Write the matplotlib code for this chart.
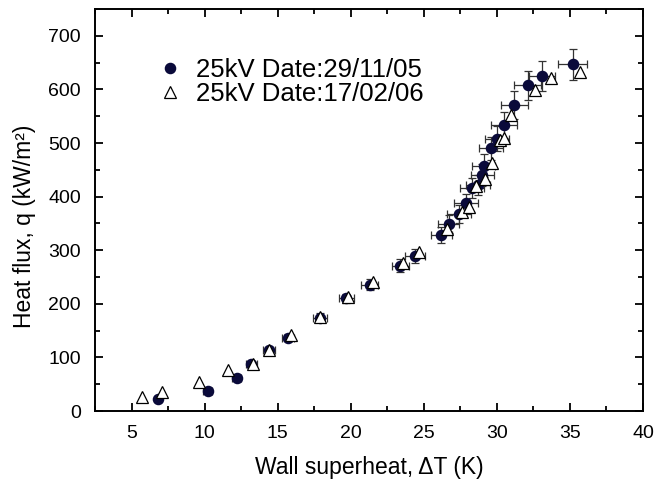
import matplotlib.pyplot as plt
from matplotlib.ticker import MultipleLocator

plt.rcParams['font.family'] = ['Liberation Sans', 'DejaVu Sans']

# 25kV 29/11/05 (filled circles, with error bars)
dt_1 = [6.8, 10.2, 12.2, 13.2, 14.4, 15.7, 17.9, 19.7, 21.3, 23.4, 24.4,
        26.2, 26.7, 27.4, 27.9, 28.3, 28.7, 29.0, 29.1, 29.6, 30.0, 30.5,
        31.2, 32.1, 33.1, 35.2]
q_1 = [22, 38, 62, 88, 114, 137, 174, 210, 236, 271, 290,
       328, 349, 368, 388, 416, 422, 440, 458, 490, 508, 533,
       571, 608, 625, 647]
dt_err_1 = [0.2, 0.3, 0.3, 0.4, 0.4, 0.4, 0.5, 0.5, 0.6, 0.6, 0.7,
            0.7, 0.7, 0.8, 0.8, 0.8, 0.8, 0.8, 0.8, 0.8, 0.8, 0.9,
            0.9, 0.9, 0.9, 1.0]
q_err_1 = [1, 2, 3, 4, 5, 6, 8, 9, 11, 12, 13,
           15, 16, 17, 17, 19, 19, 20, 21, 22, 23, 24,
           26, 27, 28, 29]

# 25kV 17/02/06 (open triangles)
dt_2 = [5.7, 7.1, 9.6, 11.6, 13.3, 14.4, 15.9, 17.9, 19.8, 21.5, 23.6,
        24.7, 26.6, 27.6, 28.1, 28.6, 29.2, 29.7, 30.2, 30.5, 31.0, 32.6,
        33.7, 35.7]
q_2 = [27, 36, 54, 76, 88, 114, 141, 176, 212, 240, 276,
       296, 340, 372, 380, 420, 432, 462, 505, 510, 553, 598,
       622, 633]

fig = plt.figure(figsize=(6.57, 4.87), dpi=100)
ax = fig.add_axes([0.1446, 0.156, 0.834, 0.8255])

ax.errorbar(dt_1, q_1, xerr=dt_err_1, yerr=q_err_1, fmt='none',
            ecolor='#333333', elinewidth=0.9, capsize=3, capthick=0.9, zorder=2)
ax.plot(dt_1, q_1, 'o', color='#0a0a3a', markersize=7.3, zorder=3,
        label='25kV Date:29/11/05')
ax.plot(dt_2, q_2, '^', markerfacecolor='white', markeredgecolor='black',
        markeredgewidth=0.9, markersize=9, zorder=4, label='25kV Date:17/02/06')

ax.set_xlim(2.5, 40)
ax.set_ylim(0, 750)
ax.xaxis.set_major_locator(MultipleLocator(5))
ax.xaxis.set_minor_locator(MultipleLocator(2.5))
ax.yaxis.set_major_locator(MultipleLocator(100))
ax.yaxis.set_minor_locator(MultipleLocator(50))
ax.tick_params(which='both', direction='in', top=True, right=True,
               labelsize=14, width=1.3)
ax.tick_params(which='major', length=6)
ax.tick_params(which='minor', length=3.5)
ax.tick_params(axis='x', pad=10)
ax.tick_params(axis='y', pad=10)
for s in ax.spines.values():
    s.set_linewidth(1.4)

ax.set_xlabel('Wall superheat, ΔT (K)', fontsize=16.5)
ax.set_ylabel('Heat flux, q (kW/m²)', fontsize=16.5)
ax.xaxis.set_label_coords(0.5, -0.113)
ax.yaxis.set_label_coords(-0.108, 0.46)

ax.legend(loc='upper left', bbox_to_anchor=(0.095, 0.903), frameon=False,
          fontsize=18.5, handlelength=1.0, handletextpad=0.5,
          labelspacing=0.0, borderaxespad=0)

fig.savefig('out.png', dpi=100)
